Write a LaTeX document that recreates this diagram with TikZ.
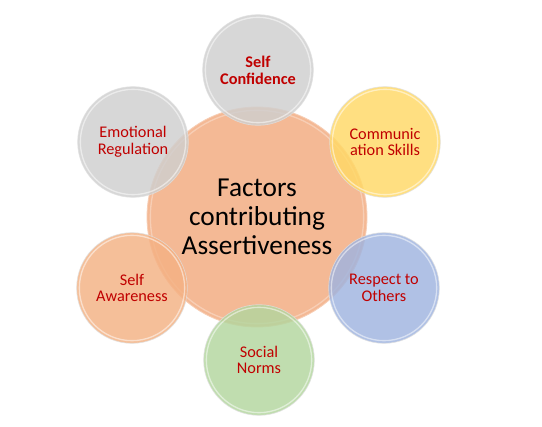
\documentclass[tikz,border=0pt]{standalone}
\usepackage{fontspec}
\setmainfont{Carlito}
\definecolor{centerc}{HTML}{F4B995}
\definecolor{grayc}{HTML}{CFCFCF}
\definecolor{yellowc}{HTML}{FFD966}
\definecolor{bluec}{HTML}{9FB4E0}
\definecolor{greenc}{HTML}{B3D69E}
\definecolor{orangec}{HTML}{F4B183}
\definecolor{labelc}{HTML}{C00000}
\begin{document}
\begin{tikzpicture}[x=0.75pt,y=-0.75pt]
\useasboundingbox[fill=white] (0,0) rectangle (542,427);
\tikzset{
  bubble/.style={circle, inner sep=0pt, minimum size=83pt, fill=#1, fill opacity=0.82,
    draw=gray!25, line width=0.5pt, draw opacity=0.8, text opacity=1,
    align=center, text=labelc, font=\fontsize{12.2}{12.6}\selectfont,
    path picture={\draw[white, line width=1pt, opacity=0.5]
      (path picture bounding box.center) circle (39.5pt);}},
  hub/.style={circle, inner sep=0pt, minimum size=165pt, fill=centerc,
    draw=centerc!70!white, line width=0.6pt,
    align=center, text=black, font=\fontsize{20.5}{21.8}\selectfont,
    path picture={\draw[white, line width=1pt, opacity=0.3]
      (path picture bounding box.center) circle (80pt);}}
}
\node[hub] (c) at (257,217) {Factors\\contributing\\Assertiveness};
\node[bubble=grayc, font=\fontsize{12.2}{12.6}\selectfont\bfseries] (sc) at (258,70) {Self\\Confidence};
\node[bubble=yellowc] (cs) at (385,142) {Communic\\ation Skills};
\node[bubble=bluec] (ro) at (384,288) {Respect to\\Others};
\node[bubble=greenc] (sn) at (259,360) {Social\\Norms};
\node[bubble=orangec] (sa) at (132,288) {Self\\Awareness};
\node[bubble=grayc] (er) at (133,142) {Emotional\\Regulation};
\end{tikzpicture}
\end{document}
